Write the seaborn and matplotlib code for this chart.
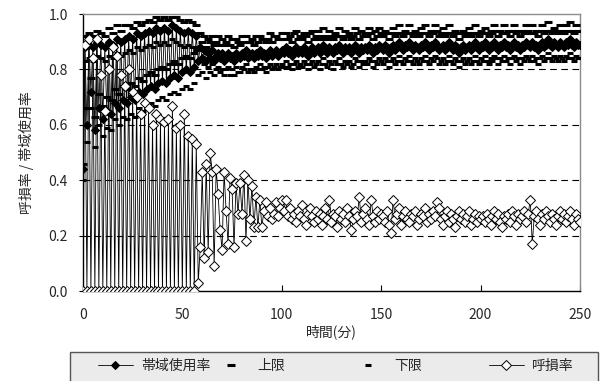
import numpy as np
import pandas as pd
import matplotlib
matplotlib.use("Agg")
import matplotlib.pyplot as plt
from matplotlib.patches import Rectangle
import seaborn as sns

# time axis (minutes)
minutes = list(range(0, 251))

# bandwidth usage (%)
usage_pct = [
    44,
    88, 60, 89, 72, 88, 58, 90, 66, 89, 62, 88, 65, 90, 64, 89, 68, 91, 66, 90, 69,
    91, 68, 92, 70, 91, 69, 93, 72, 92, 71, 93, 73, 94, 74, 93, 73, 95, 75, 94, 76,
    95, 75, 94, 77, 96, 78, 95, 77, 94, 79, 93, 80, 94, 79, 93, 81, 92,
    83, 88, 84, 87, 83, 86, 84, 87, 83, 85, 86, 84, 86, 83, 85, 86, 84, 85, 83, 86,
    85, 84, 86, 85, 87, 84, 85, 86, 84, 86, 85, 87, 85, 86, 84, 86, 87, 85, 86, 87,
    85, 86, 87,
    86, 88, 86, 87, 85, 87, 88, 86, 87, 86, 88, 87, 85, 87, 88, 86, 87, 88, 86, 87,
    89, 87, 86, 88, 87, 86, 88, 87, 89, 87, 86, 88, 87, 88, 86, 87, 89, 88, 86, 88,
    87, 88, 87, 89, 88, 86, 88, 87, 89, 88,
    87, 89, 88, 86, 88, 89, 87, 88, 90, 88, 87, 89, 88, 90, 88, 87, 89, 88, 87, 89,
    88, 90, 88, 87, 89, 88, 90, 89, 87, 88, 89, 87, 88, 90, 88, 87, 89, 88, 86, 88,
    89, 87, 88, 89, 87, 88, 90, 88, 87, 89,
    88, 90, 88, 87, 89, 88, 90, 89, 87, 89, 88, 90, 88, 89, 87, 89, 90, 88, 89, 87,
    89, 88, 90, 89, 88, 90, 88, 89, 87, 89, 90, 88, 89, 91, 89, 88, 90, 89, 88, 90,
    89, 88, 90, 89, 91, 89, 88, 90, 89, 89,
]

# upper limit (%)
upper_pct = [
    46,
    92, 66, 93, 77, 92, 63, 94, 71, 93, 67, 92, 70, 95, 69, 93, 73, 96, 71, 94, 74,
    96, 73, 96, 75, 95, 74, 97, 77, 96, 76, 97, 78, 98, 79, 97, 78, 99, 80, 98, 81,
    99, 80, 98, 82, 99, 83, 99, 82, 98, 84, 97, 85, 98, 84, 97, 86, 96,
    88, 93, 90, 92, 88, 91, 90, 92, 89, 90, 92, 89, 91, 89, 90, 92, 89, 91, 88, 91,
    90, 89, 92, 90, 92, 90, 90, 91, 89, 92, 90, 92, 91, 91, 90, 91, 93, 90, 92, 92,
    91, 91, 93,
    91, 93, 91, 92, 90, 93, 94, 91, 92, 91, 93, 92, 90, 93, 94, 91, 92, 94, 91, 92,
    95, 92, 91, 94, 92, 91, 93, 92, 95, 92, 91, 94, 92, 93, 91, 92, 95, 93, 91, 94,
    92, 93, 92, 95, 93, 91, 94, 92, 95, 93,
    92, 94, 93, 91, 93, 95, 92, 93, 96, 93, 92, 94, 93, 96, 93, 92, 94, 93, 92, 95,
    93, 96, 93, 92, 94, 93, 96, 94, 92, 93, 95, 92, 93, 96, 93, 92, 94, 93, 91, 93,
    94, 92, 93, 95, 92, 93, 96, 93, 92, 94,
    93, 95, 93, 92, 94, 93, 96, 94, 92, 94, 93, 96, 93, 94, 92, 94, 96, 93, 94, 92,
    94, 93, 96, 94, 93, 96, 93, 94, 92, 94, 96, 93, 94, 97, 94, 93, 95, 94, 93, 96,
    94, 93, 96, 94, 97, 94, 93, 96, 94, 94,
]

# lower limit (%)
lower_pct = [
    40,
    83, 54, 84, 66, 83, 52, 85, 60, 84, 56, 83, 59, 85, 58, 84, 62, 86, 60, 85, 63,
    86, 62, 87, 64, 86, 63, 88, 66, 87, 65, 88, 67, 89, 68, 88, 67, 90, 69, 89, 70,
    90, 69, 89, 71, 91, 72, 90, 71, 89, 73, 88, 74, 89, 73, 88, 75, 87,
    78, 83, 79, 82, 77, 81, 79, 82, 78, 80, 81, 79, 80, 78, 80, 81, 78, 80, 78, 81,
    79, 79, 81, 80, 82, 79, 80, 80, 79, 81, 80, 82, 80, 81, 79, 81, 82, 80, 81, 82,
    80, 81, 82,
    81, 83, 81, 82, 80, 82, 83, 81, 82, 81, 83, 82, 80, 82, 83, 81, 82, 83, 80, 82,
    84, 82, 81, 83, 82, 80, 83, 82, 84, 82, 81, 83, 82, 83, 81, 82, 84, 83, 81, 83,
    82, 83, 82, 84, 83, 81, 83, 82, 84, 83,
    82, 84, 83, 81, 83, 84, 82, 83, 85, 83, 82, 84, 83, 85, 83, 82, 84, 83, 82, 84,
    83, 85, 83, 82, 84, 83, 85, 84, 82, 83, 84, 82, 83, 85, 83, 82, 84, 83, 81, 83,
    84, 82, 83, 84, 82, 83, 85, 83, 82, 84,
    83, 85, 83, 82, 84, 83, 85, 84, 82, 84, 83, 85, 83, 84, 82, 84, 85, 83, 84, 82,
    84, 83, 85, 84, 83, 85, 83, 84, 82, 84, 85, 83, 84, 86, 84, 83, 85, 84, 83, 85,
    84, 83, 85, 84, 86, 84, 83, 85, 84, 84,
]

# call loss rate (%)
loss_pct = [
    0,
    89, 0, 91, 0, 84, 0, 91, 0, 78, 0, 65, 0, 80, 0, 88, 0, 85, 0, 78, 0,
    74, 0, 80, 0, 72, 0, 70, 0, 64, 0, 68, 0, 66, 0, 60, 0, 64, 0, 62, 0,
    61, 0, 62, 0, 67, 0, 59, 0, 60, 0, 64, 0, 56, 0, 55, 0, 53,
    3, 16, 43, 12, 46, 14, 50, 43, 9, 44, 35, 22, 15, 43, 29, 17, 41, 37, 16, 39,
    28, 39, 28, 42, 18, 40, 26, 38, 23, 34, 23, 33, 23, 29, 32, 27, 30, 26, 28, 32,
    27, 30, 33,
    29, 33, 27, 30, 26, 28, 25, 29, 27, 31, 26, 24, 28, 30, 27, 25, 29, 26, 28, 24,
    27, 30, 26, 33, 25, 28, 27, 23, 29, 26, 28, 25, 30, 27, 22, 26, 29, 27, 34, 25,
    28, 30, 26, 24, 33, 27, 25, 29, 26, 28,
    27, 25, 29, 24, 21, 33, 26, 28, 30, 24, 27, 29, 26, 25, 28, 27, 29, 24, 26, 28,
    27, 30, 25, 28, 26, 29, 27, 32, 30, 26, 24, 27, 29, 25, 28, 26, 23, 27, 29, 26,
    28, 25, 27, 29, 24, 26, 28, 25, 27, 26,
    27, 25, 28, 26, 24, 27, 29, 26, 28, 25, 23, 27, 26, 28, 25, 29, 27, 24, 28, 26,
    27, 29, 25, 28, 33, 17, 27, 29, 26, 24, 28, 26, 29, 27, 25, 28, 26, 24, 27, 29,
    26, 28, 25, 27, 29, 26, 24, 28, 26, 25,
]

df = pd.DataFrame({
    "t": minutes,
    "usage": np.array(usage_pct) / 100,
    "upper": np.array(upper_pct) / 100,
    "lower": np.array(lower_pct) / 100,
    "loss": np.array(loss_pct) / 100,
})

sns.set_style("white")
plt.rcParams["font.family"] = ["Noto Sans CJK JP", "DejaVu Sans"]

W, H = 601, 381
fig = plt.figure(figsize=(W / 100, H / 100), dpi=100)
ax = fig.add_axes([0.138, 0.236, 0.827, 0.727])

# grid lines
for yv in [0.2, 0.4, 0.6, 0.8]:
    ax.axhline(yv, color="black", lw=0.8, ls=(0, (6, 4)), zorder=0)

sns.lineplot(data=df, x="t", y="usage", ax=ax, color="black", lw=0.6,
             marker="D", markersize=4.5, markerfacecolor="black",
             markeredgecolor="black", errorbar=None, label="帯域使用率", zorder=3)
sns.lineplot(data=df, x="t", y="upper", ax=ax, color="black", ls="",
             marker="_", markersize=6, markeredgewidth=2.2,
             markeredgecolor="black", errorbar=None, label="上限", zorder=4)
sns.lineplot(data=df, x="t", y="lower", ax=ax, color="black", ls="",
             marker="_", markersize=5, markeredgewidth=2.2,
             markeredgecolor="black", errorbar=None, label="下限", zorder=4)
sns.lineplot(data=df, x="t", y="loss", ax=ax, color="black", lw=0.6,
             marker="D", markersize=5, markerfacecolor="white",
             markeredgecolor="black", markeredgewidth=0.7, errorbar=None,
             label="呼損率", zorder=5)

ax.set_xlim(0, 250)
ax.set_ylim(0, 1.0)
ax.set_xticks([0, 50, 100, 150, 200, 250])
ax.set_yticks([0.0, 0.2, 0.4, 0.6, 0.8, 1.0])
ax.set_yticklabels(["0.0", "0.2", "0.4", "0.6", "0.8", "1.0"])
ax.tick_params(axis="x", direction="in", length=4, pad=12, labelsize=10,
               color="black", bottom=True)
ax.tick_params(axis="y", direction="out", length=3, pad=8, labelsize=10,
               color="black", left=True)

for side in ["left", "bottom"]:
    ax.spines[side].set_color("black")
    ax.spines[side].set_linewidth(1.0)
for side in ["top", "right"]:
    ax.spines[side].set_color("#8c8c8c")
    ax.spines[side].set_linewidth(1.0)

ax.set_xlabel("時間(分)", fontsize=10, labelpad=2)
ax.set_ylabel("呼損率 / 帯域使用率", fontsize=10, labelpad=10)

ax.get_legend().remove()
handles, labels = ax.get_legend_handles_labels()

# legend box like the spreadsheet one: grey band along the bottom
fig.patches.append(Rectangle((70 / W, -0.01), 528 / W, (381 - 352) / H + 0.01,
                             transform=fig.transFigure, facecolor="#ebebeb",
                             edgecolor="#555555", lw=1.0, zorder=0))
entry_x = [98, 214, 351, 489]
for h, l, px in zip(handles, labels, entry_x):
    fig.legend([h], [l], loc="center left", bbox_to_anchor=(px / W, 1 - 366 / H),
               frameon=False, fontsize=10, handlelength=2.5, handletextpad=0.6,
               borderpad=0, borderaxespad=0)

fig.savefig("out.png", dpi=100)
